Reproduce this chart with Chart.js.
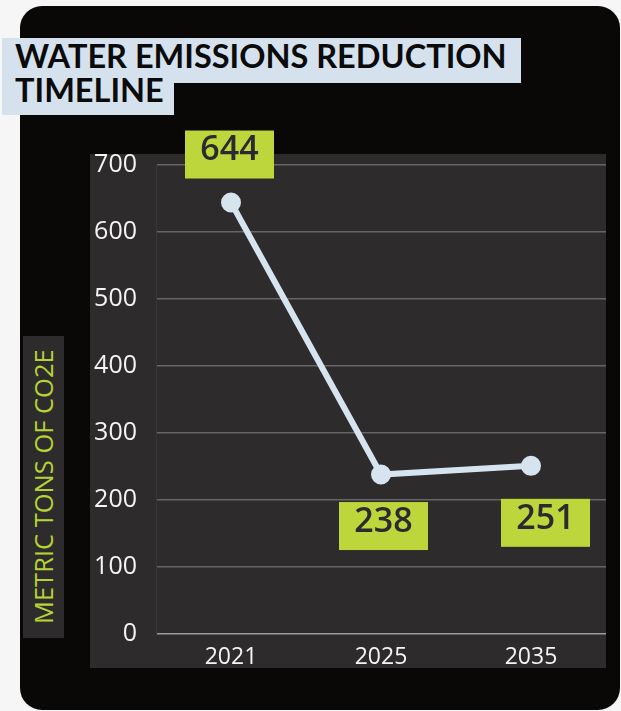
<!DOCTYPE HTML>
<html>
<head>
    <meta name="viewport" content="width=device-width, initial-scale=1">
    <script src="https://cdn.jsdelivr.net/npm/chart.js"></script>
    <style>
        body {
            margin: 0;
            background: #f6f6f6;
            font-family: "Open Sans", sans-serif;
        }
        .card {
            position: absolute;
            left: 20px;
            top: 6px;
            width: 600px;
            height: 704px;
            background: #0a0707;
            border-radius: 22px;
        }
        .title-bg {
            position: absolute;
            left: 2px;
            background: #d5e2ee;
        }
        #bg1 { top: 38px; width: 519px; height: 45px; }
        #bg2 { top: 83px; width: 172px; height: 32px; }
        .title-text {
            position: absolute;
            left: 15px;
            color: #0b0b0b;
            font-family: Lato, sans-serif;
            font-weight: 700;
            font-size: 32.5px;
            line-height: 39px;
            white-space: nowrap;
        }
        #title1 { top: 36px; }
        #title2 { top: 70px; }
        .panel {
            position: absolute;
            left: 90px;
            top: 154px;
            width: 516px;
            height: 514px;
            background: #2e2b2c;
        }
        .y-title {
            position: absolute;
            left: 23px;
            top: 336px;
            width: 41px;
            height: 302px;
            background: #2e2b2c;
            color: #b6d334;
            font-size: 25.5px;
            writing-mode: vertical-rl;
            transform: rotate(180deg);
            text-align: center;
            line-height: 41px;
            white-space: nowrap;
        }
        .chart-box {
            position: absolute;
            left: 90px;
            top: 120px;
        }
    </style>
</head>
<body>
    <div class="card"></div>
    <div class="title-bg" id="bg1"></div>
    <div class="title-bg" id="bg2"></div>
    <div class="title-text" id="title1">WATER EMISSIONS REDUCTION</div>
    <div class="title-text" id="title2">TIMELINE</div>
    <div class="panel"></div>
    <div class="y-title">METRIC TONS OF CO2E</div>
    <div class="chart-box">
        <canvas id="emissionsChart" width="516" height="548"></canvas>
    </div>

    <script>
        const years = ['2021', '2025', '2035'];
        const emissions = [644, 238, 251];
        const yMin = 0;
        const yMax = 700;
        const yStep = 100;

        // where each value box sits relative to its point
        const boxPlacement = [
            { dx: -1.5, dy: -48 },
            { dx: 2.5, dy: 51.5 },
            { dx: 14.5, dy: 57 }
        ];

        const valueBoxes = {
            id: 'valueBoxes',
            afterDatasetsDraw(chart) {
                const ctx = chart.ctx;
                const meta = chart.getDatasetMeta(0);
                ctx.save();
                meta.data.forEach((pt, i) => {
                    const cx = pt.x + boxPlacement[i].dx;
                    const cy = pt.y + boxPlacement[i].dy;
                    ctx.fillStyle = '#bdd63b';
                    ctx.fillRect(cx - 44.5, cy - 24, 89, 48);
                    ctx.fillStyle = '#2c2a30';
                    ctx.font = '600 34px "Open Sans"';
                    ctx.textAlign = 'center';
                    ctx.textBaseline = 'middle';
                    ctx.fillText(String(emissions[i]), cx, cy - 4);
                });
                ctx.restore();
            }
        };

        const ctx = document.getElementById('emissionsChart').getContext('2d');
        new Chart(ctx, {
            type: 'line',
            data: {
                labels: years,
                datasets: [{
                    data: emissions,
                    borderColor: '#d6e4ef',
                    backgroundColor: '#d6e4ef',
                    borderWidth: 6,
                    pointRadius: 7,
                    pointHoverRadius: 7,
                    tension: 0,
                    clip: false
                }]
            },
            options: {
                responsive: false,
                animation: false,
                layout: {
                    autoPadding: false,
                    padding: { top: 45, right: 0, bottom: 0, left: 0 }
                },
                plugins: {
                    legend: { display: false },
                    tooltip: { enabled: false }
                },
                scales: {
                    x: {
                        offset: true,
                        grid: { display: false, drawTicks: false },
                        border: { display: false },
                        ticks: {
                            color: '#f4f4f4',
                            font: { family: 'Open Sans', size: 23 },
                            padding: 10
                        },
                        afterFit(scale) { scale.height = 34; }
                    },
                    y: {
                        min: yMin,
                        max: yMax,
                        grid: {
                            color: c => c.tick.value === 0 ? '#9c999a' : '#686566',
                            lineWidth: 1.5,
                            drawTicks: false
                        },
                        border: { display: true, color: '#3a3738', width: 1 },
                        ticks: {
                            stepSize: yStep,
                            color: '#f4f4f4',
                            font: { family: 'Open Sans', size: 25 },
                            padding: 19
                        },
                        afterFit(scale) { scale.width = 66; }
                    }
                }
            },
            plugins: [valueBoxes]
        });
    </script>
</body>
</html>
